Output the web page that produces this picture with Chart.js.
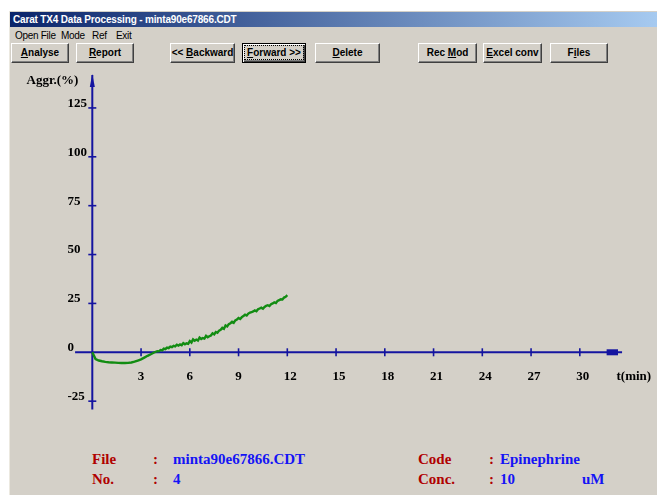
<!DOCTYPE html>
<html><head><meta charset="utf-8">
<script src="https://cdn.jsdelivr.net/npm/chart.js@4.4.1/dist/chart.umd.min.js"></script>
<style>
html,body{margin:0;padding:0;background:#fff;width:657px;height:495px;overflow:hidden;}
#win{position:absolute;left:9px;top:11px;width:648px;height:484px;background:#d4d0c8;border-left:1px solid #ece9e0;box-sizing:border-box;}
#title{position:absolute;left:10px;top:12px;width:647px;height:15px;background:linear-gradient(to right,#0a246a,#a6caf0);color:#fff;font:bold 10px "Liberation Sans",Arial,sans-serif;letter-spacing:-0.17px;line-height:15px;padding-left:3px;box-sizing:border-box;white-space:nowrap;}
.menu{position:absolute;top:30px;font:10px "Liberation Sans",Arial,sans-serif;letter-spacing:-0.3px;color:#000;white-space:nowrap;line-height:12px;}
.btn{position:absolute;top:43px;height:20px;box-sizing:border-box;background:#d4d0c8;border-top:1px solid #fff;border-left:1px solid #fff;border-right:1px solid #404040;border-bottom:1px solid #404040;box-shadow:inset -1px -1px 0 #808080;font:bold 10px "Liberation Sans",Arial,sans-serif;text-align:center;line-height:18px;color:#000;white-space:nowrap;}
.btn u{text-decoration:underline;}
.focus{border:1px solid #000;box-shadow:inset 1px 1px 0 #fff,inset -1px -1px 0 #404040,inset -2px -2px 0 #808080;}
.focus span{outline:1px dotted #000;outline-offset:1px;padding:0 1px;}
canvas#c{position:absolute;left:0;top:65px;}
.info{position:absolute;font:bold 15px "Liberation Serif","Times New Roman",serif;white-space:nowrap;line-height:18px;}
.r{color:#b00000;}
.b{color:#1414f5;}
</style></head>
<body>
<div id="win"></div>
<div id="title">Carat TX4 Data Processing - minta90e67866.CDT</div>
<div class="menu" style="left:15px;">Open File</div>
<div class="menu" style="left:61px;">Mode</div>
<div class="menu" style="left:92px;">Ref</div>
<div class="menu" style="left:116px;">Exit</div>
<div class="btn" style="left:11px;width:58px;"><u>A</u>nalyse</div>
<div class="btn" style="left:76px;width:58px;"><u>R</u>eport</div>
<div class="btn" style="left:170px;width:65px;">&lt;&lt; <u>B</u>ackward</div>
<div class="btn focus" style="left:242px;width:64px;"><span><u>F</u>orward &gt;&gt;</span></div>
<div class="btn" style="left:315px;width:65px;"><u>D</u>elete</div>
<div class="btn" style="left:418px;width:59px;">Rec <u>M</u>od</div>
<div class="btn" style="left:483px;width:59px;"><u>E</u>xcel conv</div>
<div class="btn" style="left:550px;width:58px;">F<u>i</u>les</div>
<canvas id="c" width="657" height="380"></canvas>
<div class="info r" style="left:92px;top:450px;">File</div>
<div class="info r" style="left:153px;top:450px;">:</div>
<div class="info b" style="left:173px;top:450px;">minta90e67866.CDT</div>
<div class="info r" style="left:92px;top:470px;">No.</div>
<div class="info r" style="left:153px;top:470px;">:</div>
<div class="info b" style="left:173px;top:470px;">4</div>
<div class="info r" style="left:418px;top:450px;">Code</div>
<div class="info r" style="left:489px;top:450px;">:</div>
<div class="info b" style="left:500px;top:450px;">Epinephrine</div>
<div class="info r" style="left:418px;top:470px;">Conc.</div>
<div class="info r" style="left:489px;top:470px;">:</div>
<div class="info b" style="left:500px;top:470px;">10</div>
<div class="info b" style="left:582px;top:470px;">uM</div>
<script>
// ---- data ----
const timeMin = [0,0.2,0.4,0.6,0.8,1.0,1.2,1.4,1.6,1.8,2.0,2.2,2.4,2.6,2.8,3.0,3.2,3.4,3.6,3.8,
  4.0,4.1,4.2,4.3,4.4,4.5,4.6,4.7,4.8,4.9,5.0,5.1,5.2,5.3,5.4,5.5,5.6,5.7,5.8,5.9,
  6.0,6.1,6.2,6.3,6.4,6.5,6.6,6.7,6.8,6.9,7.0,7.1,7.2,7.3,7.4,7.5,7.6,7.7,7.8,7.9,
  8.0,8.1,8.2,8.3,8.4,8.5,8.6,8.7,8.8,8.9,9.0,9.1,9.2,9.3,9.4,9.5,9.6,9.7,9.8,9.9,
  10.0,10.1,10.2,10.3,10.4,10.5,10.6,10.7,10.8,10.9,11.0,11.1,11.2,11.3,11.4,11.5,11.6,11.7,11.8,11.9,12.0];
const aggrPct = [0,-3.5,-4.2,-4.6,-4.9,-5.1,-5.2,-5.3,-5.4,-5.5,-5.5,-5.4,-5.2,-4.8,-4.2,-3.6,-2.7,-1.8,-1.0,-0.1,
  0.6,0.5,1.2,1.0,1.9,1.6,2.4,2.1,2.9,2.6,3.3,3.0,3.9,3.4,4.0,3.6,4.7,4.1,4.6,4.3,
  5.7,5.0,6.6,5.9,6.5,6.0,7.5,6.8,7.3,7.0,8.4,7.7,8.2,8.6,9.7,9.2,10.4,10.0,11.1,11.5,
  12.5,12.0,13.7,13.2,14.4,14.9,15.6,15.1,16.3,16.8,17.5,17.0,18.0,18.6,19.2,18.8,19.8,20.3,20.5,20.9,
  21.4,21.0,22.0,22.4,22.8,22.3,23.2,23.8,24.1,23.7,24.6,25.0,25.5,25.2,26.3,26.7,27.1,27.0,28.0,28.4,29.2];
const xTickValues = [3,6,9,12,15,18,21,24,27,30];
const yTickValues = [125,100,75,50,25,0,-25];
const xAxisTitle = 't(min)';
const yAxisTitle = 'Aggr.(%)';

const AXIS = '#1414a0';
const axesPlugin = {
  id:'axes',
  beforeDatasetsDraw(chart){
    const {ctx, scales:{x,y}} = chart;
    const x0 = x.getPixelForValue(0), y0 = y.getPixelForValue(0);
    ctx.save();
    ctx.strokeStyle = AXIS; ctx.fillStyle = AXIS; ctx.lineWidth = 2;
    // x axis
    const xl = x.getPixelForValue(-1.06), xr = x.getPixelForValue(32.6);
    ctx.beginPath(); ctx.moveTo(xl,y0); ctx.lineTo(xr,y0); ctx.stroke();
    const xa = x.getPixelForValue(31.65), xb = x.getPixelForValue(32.35);
    ctx.fillRect(xa, y0-3, xb-xa, 6);
    // y axis
    const yt = y.getPixelForValue(141.8), yb = y.getPixelForValue(-29.2);
    ctx.beginPath(); ctx.moveTo(x0,yt); ctx.lineTo(x0,yb); ctx.stroke();
    ctx.beginPath(); ctx.moveTo(x0,yt-1); ctx.lineTo(x0-2.5,yt+12); ctx.lineTo(x0+2.5,yt+12); ctx.closePath(); ctx.fill();
    // ticks
    ctx.lineWidth = 1.6;
    xTickValues.forEach(v=>{const p=x.getPixelForValue(v); ctx.beginPath(); ctx.moveTo(p,y0-4); ctx.lineTo(p,y0+4); ctx.stroke();});
    yTickValues.forEach(v=>{ if(v===0) return; const p=y.getPixelForValue(v); ctx.beginPath(); ctx.moveTo(x0-4,p); ctx.lineTo(x0+4,p); ctx.stroke();});
    // labels
    ctx.fillStyle = '#000';
    ctx.font = 'bold 13px "Liberation Serif", "Times New Roman", serif';
    ctx.textBaseline = 'middle'; ctx.textAlign = 'left';
    xTickValues.forEach(v=>{const p=x.getPixelForValue(v); const w=ctx.measureText(String(v)).width; const lx = String(v).length>1 ? p-3.5 : p-w/2; ctx.fillText(String(v), lx, y0+24.5);});
    yTickValues.forEach(v=>{const p=y.getPixelForValue(v); ctx.fillText(String(v), 67.5, p-4.5);});
    ctx.fillText(xAxisTitle, 616.5, y0+24.5);
    ctx.fillText(yAxisTitle, 26.5, y.getPixelForValue(0)-271.5);
    ctx.restore();
  }
};

new Chart(document.getElementById('c'), {
  type:'line',
  data:{datasets:[{data: timeMin.map((t,i)=>({x:t,y:aggrPct[i]})), borderColor:'#128c12', borderWidth:2.4, pointRadius:0, tension:0, fill:false}]},
  options:{
    responsive:false, animation:false, devicePixelRatio:1,
    layout:{padding:0},
    plugins:{legend:{display:false}, tooltip:{enabled:false}},
    scales:{
      x:{type:'linear', min:-5.68, max:34.75, display:false},
      y:{type:'linear', min:-47.42, max:146.96, display:false}
    }
  },
  plugins:[axesPlugin]
});
</script>
</body></html>
